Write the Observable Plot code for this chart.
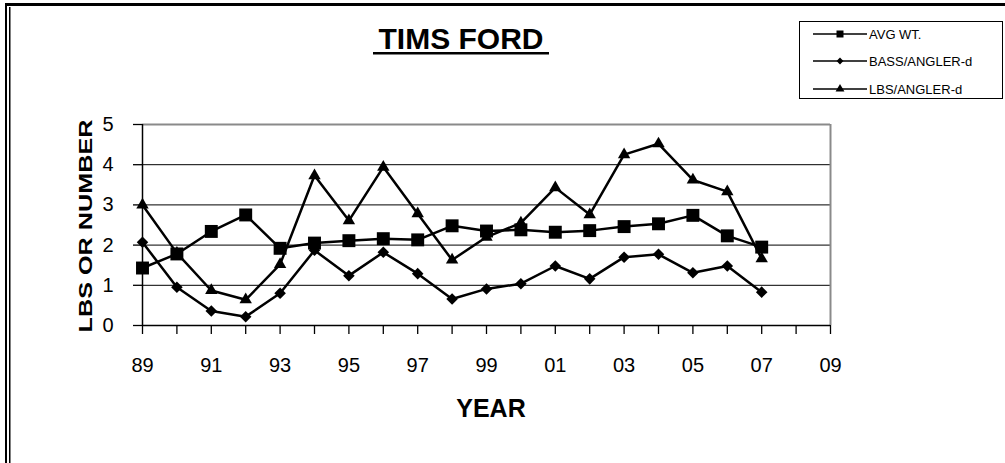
<!DOCTYPE html>
<html><head><meta charset="utf-8">
<script src="https://cdn.jsdelivr.net/npm/d3@7"></script>
<script src="https://cdn.jsdelivr.net/npm/@observablehq/plot@0.6"></script>
<style>
html,body{margin:0;padding:0;background:#fff;}
#chart{position:relative;width:1005px;height:463px;overflow:hidden;background:#fff;}
</style></head><body><div id="chart"></div>
<script>
const years = [1989,1990,1991,1992,1993,1994,1995,1996,1997,1998,1999,2000,2001,2002,2003,2004,2005,2006,2007];
const avgWt = [1.43,1.78,2.34,2.75,1.92,2.05,2.11,2.16,2.13,2.48,2.35,2.38,2.32,2.36,2.46,2.53,2.74,2.23,1.95];
const bassPerAngler = [2.07,0.95,0.36,0.22,0.80,1.87,1.24,1.82,1.29,0.66,0.91,1.04,1.48,1.16,1.70,1.77,1.31,1.48,0.83];
const lbsPerAngler = [3.00,1.80,0.87,0.64,1.52,3.73,2.61,3.94,2.78,1.63,2.20,2.55,3.43,2.76,4.25,4.52,3.62,3.33,1.66];
const seriesNames = ["AVG WT.", "BASS/ANGLER-d", "LBS/ANGLER-d"];
const yTicks = [0,1,2,3,4,5];
const xMinorTicks = d3.range(1989, 2010, 1);
const xLabelTicks = d3.range(1989, 2010, 2);
const titleText = "TIMS FORD";
const yLabelText = "LBS OR NUMBER";
const xLabelText = "YEAR";

const font = "'Liberation Sans', Arial, sans-serif";
const toRows = vals => years.map((y, i) => ({year: y, v: vals[i]}));
const avgRows = toRows(avgWt), bassRows = toRows(bassPerAngler), lbsRows = toRows(lbsPerAngler);

const plot = Plot.plot({
  width: 1005, height: 463,
  marginLeft: 142, marginRight: 175, marginTop: 124, marginBottom: 138,
  style: {background: "transparent", fontFamily: font, fontSize: "20px", color: "#000", overflow: "visible"},
  x: {domain: [1989, 2009], axis: null},
  y: {domain: [0, 5], axis: null},
  marks: [
    Plot.ruleY([1,2,3,4], {stroke: "#000", strokeWidth: 1}),
    Plot.ruleY([5], {stroke: "#8a8a8a", strokeWidth: 2}),
    Plot.ruleX([2009], {stroke: "#8a8a8a", strokeWidth: 2}),
    Plot.axisY({ticks: yTicks, tickSize: 9, tickPadding: 20, fontSize: 20, label: null, strokeWidth: 1.3,
      tickFormat: d => String(d)}),
    Plot.axisX({ticks: xMinorTicks, tickSize: 9, tickFormat: () => "", label: null, strokeWidth: 1.3}),
    Plot.axisX({ticks: xLabelTicks, tickSize: 0, tickPadding: 32, fontSize: 20, label: null,
      tickFormat: d => String(d % 100).padStart(2, "0")}),
    Plot.ruleX([1989], {stroke: "#000", strokeWidth: 1.5}),
    Plot.ruleY([0], {stroke: "#000", strokeWidth: 1.5}),
    Plot.line(lbsRows, {x: "year", y: "v", stroke: "#000", strokeWidth: 2.5}),
    Plot.dot(lbsRows, {x: "year", y: "v", symbol: "triangle", fill: "#000", stroke: "none", r: 4.6}),
    Plot.line(bassRows, {x: "year", y: "v", stroke: "#000", strokeWidth: 2.5}),
    Plot.dot(bassRows, {x: "year", y: "v", symbol: "diamond2", fill: "#000", stroke: "none", r: 5.2}),
    Plot.line(avgRows, {x: "year", y: "v", stroke: "#000", strokeWidth: 2.5}),
    Plot.dot(avgRows, {x: "year", y: "v", symbol: "square", fill: "#000", stroke: "none", r: 7.3})
  ]
});
document.getElementById("chart").appendChild(plot);

const svg = d3.select(plot);
// frame border
svg.append("rect").attr("x", 5).attr("y", 3).attr("width", 1000).attr("height", 3).attr("fill", "#000");
svg.append("rect").attr("x", 5).attr("y", 3).attr("width", 2).attr("height", 460).attr("fill", "#000");
svg.append("rect").attr("x", 9).attr("y", 7).attr("width", 1.5).attr("height", 456).attr("fill", "#000");

// title
svg.append("text").attr("x", 461).attr("y", 49).attr("text-anchor", "middle")
  .attr("font-family", font).attr("font-weight", "bold").attr("font-size", 30).attr("fill", "#000").text(titleText);
svg.append("rect").attr("x", 373).attr("y", 52).attr("width", 176).attr("height", 2.5).attr("fill", "#000");

// y label
svg.append("text").attr("transform", "translate(92,226) rotate(-90)").attr("text-anchor", "middle")
  .attr("font-family", font).attr("font-weight", "bold").attr("font-size", 19)
  .attr("textLength", 213).attr("lengthAdjust", "spacingAndGlyphs").attr("fill", "#000").text(yLabelText);

// x label
svg.append("text").attr("x", 491).attr("y", 417).attr("text-anchor", "middle")
  .attr("font-family", font).attr("font-weight", "bold").attr("font-size", 25).attr("fill", "#000").text(xLabelText);

// legend
const lg = svg.append("g");
lg.append("rect").attr("x", 799.5).attr("y", 21.5).attr("width", 203).attr("height", 77)
  .attr("fill", "#fff").attr("stroke", "#000").attr("stroke-width", 1);
const symbols = [d3.symbolSquare, d3.symbolDiamond2, d3.symbolTriangle];
const symSizes = [49, 30, 34];
const rowY = [34, 61, 89];
seriesNames.forEach((name, i) => {
  const y = rowY[i];
  lg.append("line").attr("x1", 813).attr("x2", 867).attr("y1", y).attr("y2", y)
    .attr("stroke", "#000").attr("stroke-width", 1.6);
  lg.append("path").attr("d", d3.symbol(symbols[i], symSizes[i])()).attr("transform", `translate(840,${y})`).attr("fill", "#000");
  lg.append("text").attr("x", 869).attr("y", y).attr("dy", "0.35em").attr("text-anchor", "start")
    .attr("font-family", font).attr("font-size", 13).attr("fill", "#000").text(name);
});
</script>
</body></html>
